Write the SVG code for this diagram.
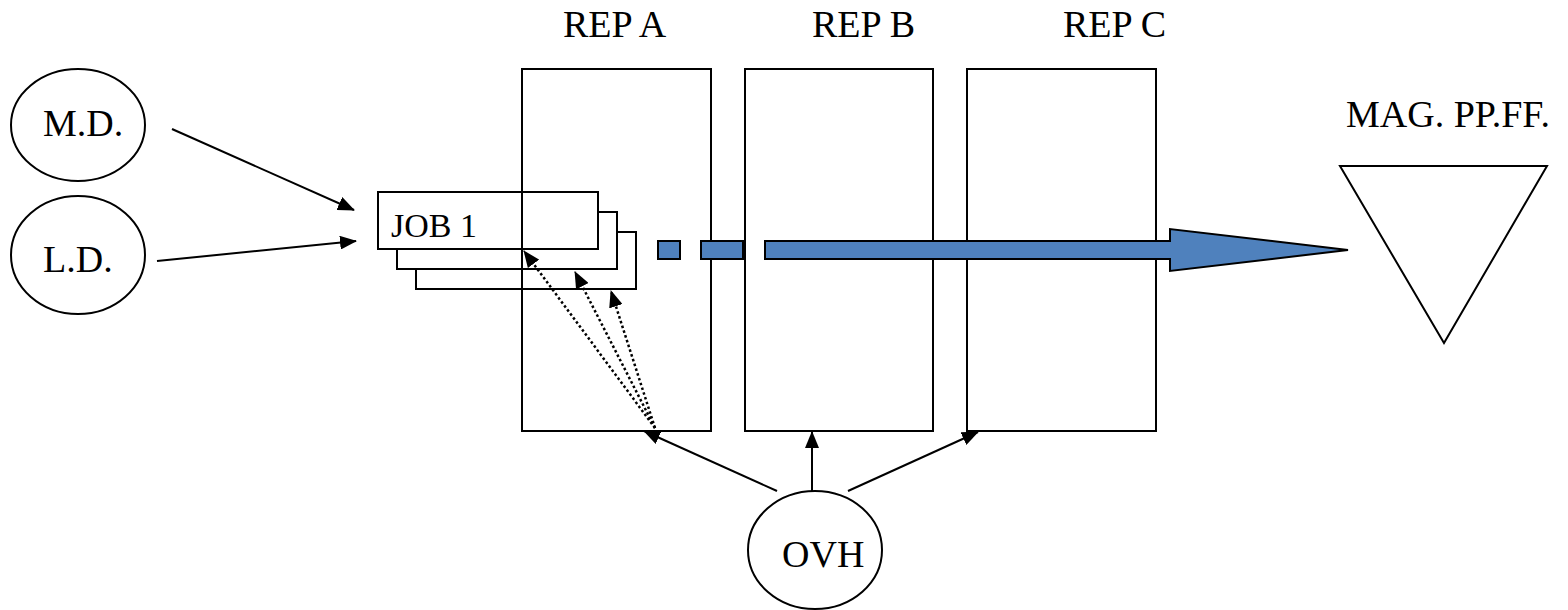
<svg xmlns="http://www.w3.org/2000/svg" width="1568" height="610" viewBox="0 0 1568 610">
<style>
.t{font-family:"Liberation Serif","Times New Roman",serif;font-size:38px;fill:#000}
.s{fill:none;stroke:#000;stroke-width:2}
.w{fill:#fff;stroke:#000;stroke-width:2}
.c{fill:none;stroke:#000;stroke-width:2}
.d{fill:none;stroke:#000;stroke-width:2.5;stroke-dasharray:2.5 2.5}
.b{fill:#4f81bd;stroke:#000;stroke-width:2}
</style>
<defs>
<marker id="ah" markerUnits="userSpaceOnUse" markerWidth="18" markerHeight="14" refX="16" refY="7" orient="auto">
<path d="M0,0 L17,7 L0,14 Z" fill="#000"/>
</marker>
</defs>
<rect width="1568" height="610" fill="#fff"/>
<g id="md"><ellipse class="s" cx="78" cy="125" rx="67" ry="56"/><text class="t" x="43" y="136">M.D.</text></g>
<g id="ld"><ellipse class="s" cx="78" cy="255" rx="67" ry="59"/><text class="t" x="43" y="272">L.D.</text></g>
<g id="ovh"><ellipse class="s" cx="815" cy="550" rx="67" ry="59"/><text class="t" x="782" y="567">OVH</text></g>
<g id="jobs">
<rect class="w" x="416" y="232" width="220" height="57"/>
<rect class="w" x="397" y="212" width="220" height="57"/>
<rect class="w" x="378" y="192" width="220" height="57"/>
<text class="t" x="391" y="237" style="font-size:34px">JOB 1</text>
</g>
<g id="repA"><rect class="s" x="522" y="69" width="189" height="362"/><text class="t" x="563" y="37">REP A</text></g>
<g id="repB"><rect class="s" x="745" y="69" width="188" height="362"/><text class="t" x="812" y="37">REP B</text></g>
<g id="repC"><rect class="s" x="967" y="69" width="189" height="362"/><text class="t" x="1063" y="37">REP C</text></g>
<g id="mag"><polygon class="s" points="1340,166 1547,166 1444,343"/><text class="t" x="1346" y="127">MAG. PP.FF.</text></g>
<g id="flow">
<rect class="b" x="658" y="241" width="22" height="18"/>
<rect class="b" x="701" y="241" width="42" height="18"/>
<polygon class="b" points="765,241 1170,241 1170,229 1348,250 1170,271 1170,259 765,259"/>
</g>
<g id="connectors">
<line class="c" x1="172" y1="129" x2="354" y2="210" marker-end="url(#ah)"/>
<line class="c" x1="157" y1="261" x2="356" y2="241" marker-end="url(#ah)"/>
<line class="c" x1="777" y1="491" x2="644" y2="431" marker-end="url(#ah)"/>
<line class="c" x1="812" y1="491" x2="812" y2="432" marker-end="url(#ah)"/>
<line class="c" x1="848" y1="491" x2="978" y2="432" marker-end="url(#ah)"/>
<line class="d" x1="655" y1="428" x2="524" y2="251" marker-end="url(#ah)"/>
<line class="d" x1="655" y1="428" x2="575" y2="272" marker-end="url(#ah)"/>
<line class="d" x1="655" y1="428" x2="611" y2="291" marker-end="url(#ah)"/>
</g>
</svg>
